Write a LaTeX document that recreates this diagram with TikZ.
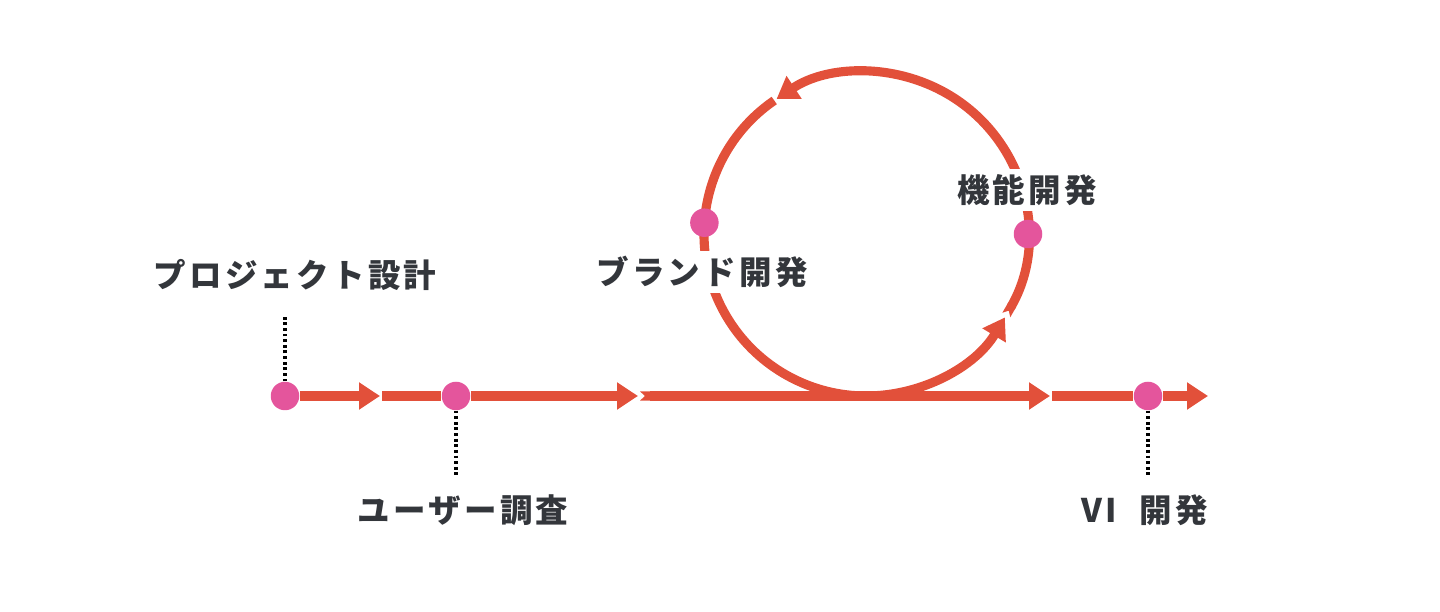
\documentclass[tikz,border=0pt]{standalone}
\usepackage{fontspec}
\usetikzlibrary{arrows.meta}
\newfontfamily\jpfont[LetterSpace=10]{Noto Sans CJK JP}
\definecolor{flow}{HTML}{E2503A}
\definecolor{pink}{HTML}{E4559C}
\definecolor{ink}{HTML}{33363B}
\tikzset{
  flowline/.style={flow,line width=5.2pt,-{Triangle[length=0.42cm,width=0.52cm]}},
  notchline/.style={flow,line width=5.2pt,{Triangle Cap[reversed,length=0.1cm]}-{Triangle[length=0.42cm,width=0.52cm]}},
  plainline/.style={flow,line width=5.2pt},
  stop/.style={circle,fill=pink,minimum size=0.57cm,inner sep=0pt},
  lbl/.style={font=\jpfont\bfseries\fontsize{18.5}{21}\selectfont,text=ink,fill=white,inner sep=3pt},
  tick/.style={line width=2pt,dash pattern=on 1.6pt off 1.6pt}
}

\begin{document}
\begin{tikzpicture}[x=1cm,y=1cm]
    \useasboundingbox (0,0) rectangle (28.8,12.24);
    % main line
    \node[stop] (d1) at (5.70,4.32) {};
    \node[stop] (d2) at (9.12,4.32) {};
    \node[stop] (d3) at (22.96,4.32) {};
    \coordinate (t1) at (7.60,4.32);
    \coordinate (s1) at (7.64,4.32);
    \coordinate (t2) at (12.76,4.32);
    \coordinate (s2) at (12.80,4.32);
    \coordinate (t3) at (21.00,4.32);
    \coordinate (s3) at (21.04,4.32);
    \coordinate (t4) at (24.16,4.32);
    \draw[flowline] (d1) -- (t1);
    \draw[notchline,-] (s1) -- (d2);
    \draw[flowline] (d2) -- (t2);
    \draw[notchline] (s2) -- (t3);
    \draw[notchline,-] (s3) -- (d3);
    \draw[flowline] (d3) -- (t4);
    % loop
    \coordinate (c) at (17.32,7.56);
    \coordinate (a0) at ([shift={(-90:3.24)}]c);
    \coordinate (a1) at ([shift={(-30:3.24)}]c);
    \coordinate (a2) at ([shift={(124.5:3.24)}]c);
    \draw[flowline] (a0) arc[start angle=-90,end angle=-31,radius=3.24];
    \draw[notchline] (a1) arc[start angle=-30,end angle=123.5,radius=3.24];
    \draw[plainline] (a2) arc[start angle=124.5,end angle=270,radius=3.24];
    \node[lbl] (brand) at (14.04,6.80) {ブランド開発};
    \node[lbl] (func) at (20.54,8.44) {機能開発};
    \node[stop] (b1) at ([shift={(176:3.24)}]c) {};
    \node[stop] (f1) at ([shift={(0:3.24)}]c) {};
    % labels
    \coordinate (p1) at (5.70,5.94);
    \coordinate (p2) at (9.12,2.74);
    \coordinate (p3) at (22.96,2.74);
    \draw[tick] (d1) -- (p1);
    \draw[tick] (d2) -- (p2);
    \draw[tick] (d3) -- (p3);
    \node[lbl] (plan) at (5.90,6.74) {プロジェクト設計};
    \node[lbl] (user) at (9.26,2.04) {ユーザー調査};
    \node[lbl] (vi) at (22.90,2.04) {VI\hspace{0.7em}開発};
\end{tikzpicture}
\end{document}
